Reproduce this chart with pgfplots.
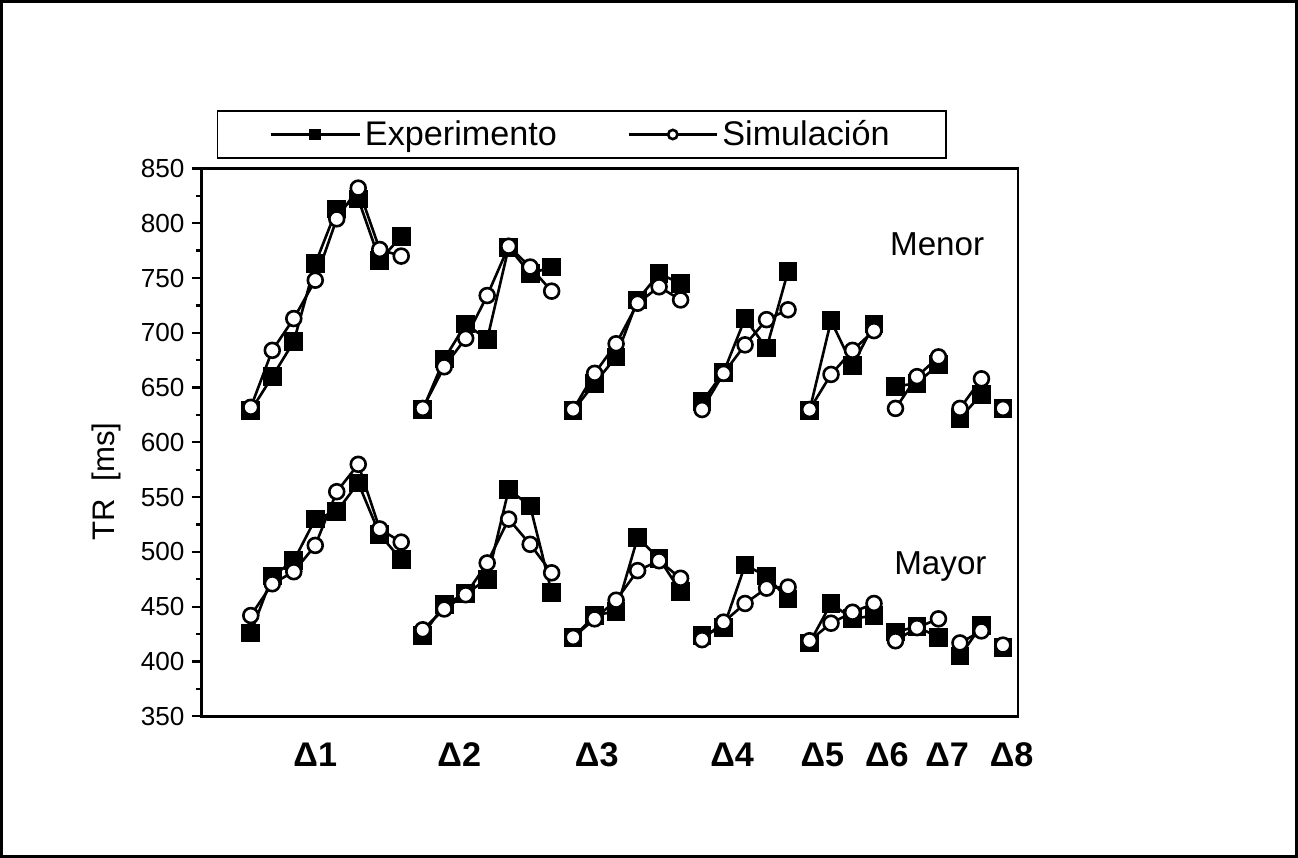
\documentclass[border=0pt]{standalone}
\usepackage{fontspec}
\setmainfont{Liberation Sans}
\usepackage{pgfplots}
\pgfplotsset{compat=1.18}
\usepackage{pgfplotstable}

\pgfplotstableread{
x em sm eM sM
0 629 632 426 442
1 660 684 478 471
2 692 713 492 482
3 763 748 530 506
4 813 804 537 555
5 822 832 563 580
6 766 776 516 521
7 788 770 493 509
7.5 nan nan nan nan
8 630 631 424 429
9 676 669 452 448
10 708 695 462 461
11 694 734 475 490
12 778 779 557 530
13 754 760 542 507
14 760 738 463 481
14.5 nan nan nan nan
15 629 630 422 422
16 654 663 442 439
17 678 690 446 456
18 730 727 513 483
19 754 742 494 492
20 745 730 464 476
20.5 nan nan nan nan
21 637 630 424 420
22 664 663 431 436
23 713 689 488 453
24 686 712 478 467
25 756 721 457 468
25.5 nan nan nan nan
26 629 630 417 419
27 711 662 453 435
28 670 684 439 445
29 708 702 442 453
29.5 nan nan nan nan
30 651 631 427 419
31 654 660 432 431
32 671 678 422 439
32.5 nan nan nan nan
33 622 631 405 417
34 644 658 433 428
34.5 nan nan nan nan
35 631 631 413 415
}\data

\begin{document}
\begin{tikzpicture}
\begin{axis}[
  scale only axis, width=406pt, height=272.5pt,
  xmin=-2.29, xmax=35.70, ymin=350, ymax=850,
  ytick={350,400,...,850}, minor y tick num=1,
  ytick pos=left, tick align=outside,
  major tick length=5pt, minor tick length=3pt,
  xtick={3.0,9.7,16.1,22.4,26.6,29.6,32.4,35.4},
  xticklabels={Δ1,Δ2,Δ3,Δ4,Δ5,Δ6,Δ7,Δ8},
  x tick style={draw=none},
  xticklabel style={font=\fontsize{17}{20}\selectfont\bfseries, text height=12.5pt, text depth=0pt, yshift=-4pt},
  yticklabel style={font=\fontsize{13}{15}\selectfont},
  /pgf/number format/assume math mode=true,
  axis line style={line width=1.3pt},
  every tick/.style={black, line width=1.1pt},
  unbounded coords=jump,
  clip=false,
  legend columns=2,
  legend style={at={(0.0185,1.018)}, anchor=south west, draw=black, line width=0.9pt,
    font=\fontsize{17}{20}\selectfont, inner xsep=26pt, inner ysep=2.5pt,
    /tikz/every even column/.append style={column sep=33pt}},
  legend image code/.code={
    \draw[#1, mark=none] (0pt,0pt) -- (44pt,0pt);
    \draw[#1, mark size=2.3pt] plot coordinates {(22pt,0pt)};
  },
]
\addplot[black, line width=1.3pt, mark=square*, mark size=4pt, mark options={solid, fill=black}] table[x=x,y=em]{\data};
\addlegendentry{Experimento}
\addplot[black, line width=1.3pt, mark=*, mark size=3.7pt, mark options={solid, fill=white, draw=black, line width=1.3pt}] table[x=x,y=sm]{\data};
\addlegendentry{Simulación}
\addplot[black, line width=1.3pt, mark=square*, mark size=4pt, mark options={solid, fill=black}, forget plot] table[x=x,y=eM]{\data};
\addplot[black, line width=1.3pt, mark=*, mark size=3.7pt, mark options={solid, fill=white, draw=black, line width=1.3pt}, forget plot] table[x=x,y=sM]{\data};

\node[rotate=90, font=\fontsize{15.5}{18}\selectfont] at (rel axis cs:-0.117,0.429) {TR\ \ [ms]};
\node[font=\fontsize{16.5}{19}\selectfont] at (rel axis cs:0.901,0.861) {Menor};
\node[font=\fontsize{16.5}{19}\selectfont] at (rel axis cs:0.905,0.273) {Mayor};
\end{axis}
\draw[line width=1.5pt] ([xshift=-99.5pt,yshift=-69.5pt]current axis.south west) rectangle ([xshift=138.5pt,yshift=83pt]current axis.north east);
\end{tikzpicture}
\end{document}
